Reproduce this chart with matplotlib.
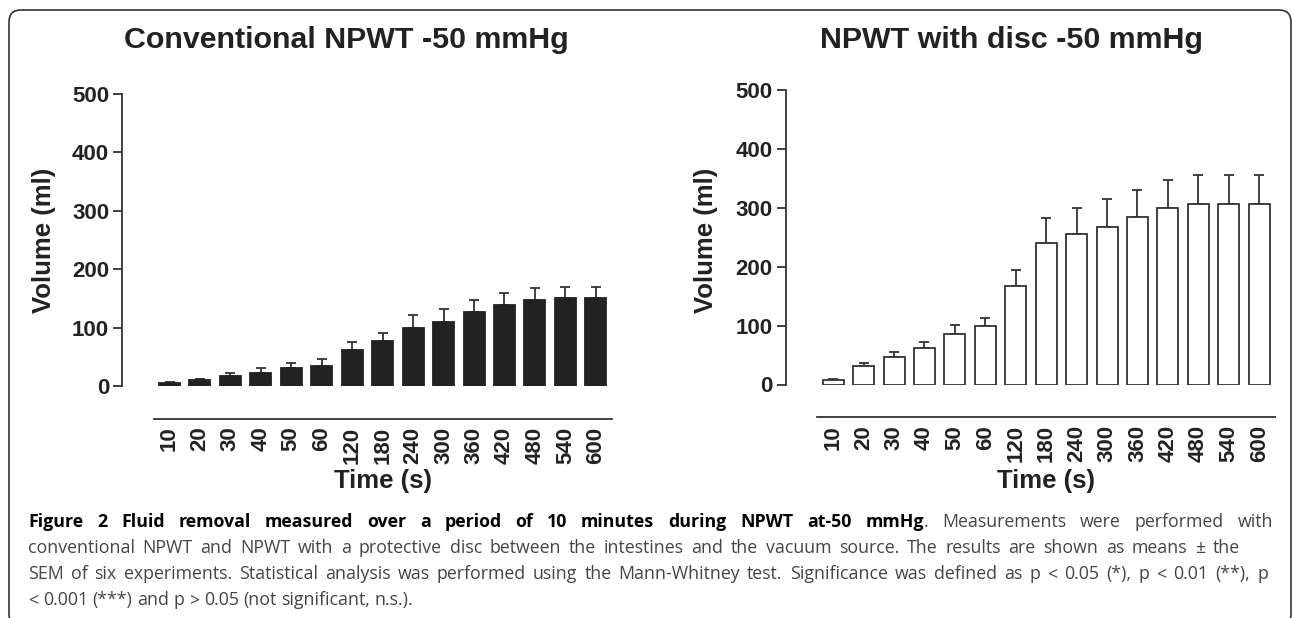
import numpy as np
import matplotlib
matplotlib.use("Agg")
from matplotlib import pyplot as plt
from matplotlib.patches import FancyBboxPatch

times = ["10", "20", "30", "40", "50", "60", "120", "180", "240",
         "300", "360", "420", "480", "540", "600"]

conv_mean = [4.5, 10, 17, 22.5, 30, 35, 62, 77.5, 99.5, 109.5, 127.5, 139, 148, 150, 150]
conv_sem = [1.5, 2, 5, 7.5, 9, 10.5, 13, 14, 21.5, 23, 20.5, 20, 20, 20, 20]

disc_mean = [7.4, 31, 46, 62, 86, 98.5, 166.5, 240.5, 255, 267, 284, 299.5, 306, 306, 307]
disc_sem = [1.6, 6, 10, 10.5, 15, 14, 27.5, 41.5, 45, 48, 46, 47.5, 49, 50, 49]

titles = ["Conventional NPWT -50 mmHg", "NPWT with disc -50 mmHg"]

W, H = 1292, 618
plt.rcParams['font.family'] = ['Liberation Sans', 'DejaVu Sans']
fig = plt.figure(figsize=(W / 100, H / 100), dpi=100)

dark = '#222222'
lw = 1.3


def px(x, y):
    return x / W, 1 - y / H


def panel(rect, means, sems, filled, title, title_x, bar_cx, ylab_x):
    ax = fig.add_axes(rect)
    # spines first: moving a spine resets the tick labels
    for s in ['top', 'right']:
        ax.spines[s].set_visible(False)
    ax.spines['bottom'].set_position(('outward', 23.5))
    for s in ['left', 'bottom']:
        ax.spines[s].set_linewidth(lw)
        ax.spines[s].set_color('#333333')
    x = np.arange(len(times))
    if filled:
        ax.bar(x, means, width=0.69, color=dark, edgecolor=dark, linewidth=lw, zorder=3)
    else:
        ax.bar(x, means, width=0.69, color='white', edgecolor='#333333', linewidth=lw, zorder=3)
    ax.errorbar(x, means, yerr=[np.zeros(len(sems)), sems], fmt='none',
                ecolor='#333333', elinewidth=lw, capsize=3.6, capthick=lw, zorder=2)
    ax.set_xlim(-1.56, 14.53)
    ax.set_ylim(0, 500)
    ax.spines['left'].set_bounds(0, 500)
    ax.spines['bottom'].set_bounds(-0.52, 14.53)
    ax.set_yticks(range(0, 501, 100))
    ax.set_xticks(x)
    ax.set_xticklabels(times)
    ax.tick_params(axis='y', direction='out', length=6.8, width=lw, color='#333333',
                   pad=2.5, labelsize=16, labelcolor=dark)
    ax.tick_params(axis='x', length=0, pad=5.8, labelsize=16, labelcolor=dark,
                   labelrotation=90)
    for lab in ax.get_xticklabels() + ax.get_yticklabels():
        lab.set_fontweight('bold')
    ax.patch.set_visible(False)

    fig.text(*px(title_x, 48), title, ha='center', va='baseline',
             fontsize=21.9, fontweight='bold', color=dark)
    fig.text(*px(bar_cx, 488), "Time (s)", ha='center', va='baseline',
             fontsize=18.5, fontweight='bold', color=dark)
    fig.text(*px(ylab_x, 240), "Volume (ml)", ha='center', va='center', rotation=90,
             fontsize=18.5, fontweight='bold', color=dark)
    return ax


panel([122 / W, 1 - 386 / H, 490 / W, 292 / H], conv_mean, conv_sem, True,
      titles[0], 346, 383, 44)
panel([785.7 / W, 1 - 384.5 / H, 489.6 / W, 294.5 / H], disc_mean, disc_sem, False,
      titles[1], 1011, 1046, 706)

# rounded frame around the figure
frame = FancyBboxPatch((9, -8), 1282, 616, boxstyle="round,pad=0,rounding_size=12",
                       transform=None, fill=False, edgecolor='#333333', linewidth=1.2)
fig.patches.append(frame)

# caption, justified word by word
cap_lines = [
    ([("Figure 2 Fluid removal measured over a period of 10 minutes during NPWT at-50 mmHg", 'bold'),
      (". Measurements were performed with", 'normal')], 1273),
    ([("conventional NPWT and NPWT with a protective disc between the intestines and the vacuum source. "
       "The results are shown as means \u00b1 the", 'normal')], 1240),
    ([("SEM of six experiments. Statistical analysis was performed using the Mann-Whitney test. "
       "Significance was defined as p < 0.05 (*), p < 0.01 (**), p", 'normal')], 1268),
    ([("< 0.001 (***) and p > 0.05 (not significant, n.s.).", 'normal')], None),
]
cap_y = [527, 553, 579, 605]
cap_x0 = 28
cap_size = 12.8
cap_font = ['Open Sans', 'DejaVu Sans']

fig.canvas.draw()
renderer = fig.canvas.get_renderer()


def width_of(s, weight):
    t = fig.text(0, 0, s, fontsize=cap_size, fontweight=weight, family=cap_font)
    w = t.get_window_extent(renderer).width
    t.remove()
    return w


for (segs, x_end), y in zip(cap_lines, cap_y):
    # split into words, each word = list of pieces (text, weight)
    words = []
    glue = False
    for text, weight in segs:
        parts = text.split(' ')
        for i, p in enumerate(parts):
            if p == '':
                continue
            if i == 0 and glue and words:
                words[-1].append((p, weight))
            else:
                words.append([(p, weight)])
        glue = not text.endswith(' ')
    widths = [sum(width_of(p, w) for p, w in wd) for wd in words]
    space = width_of('a b', 'normal') - width_of('ab', 'normal')
    if x_end is not None and len(words) > 1:
        gap = (x_end - cap_x0 - sum(widths)) / (len(words) - 1)
    else:
        gap = space
    x = cap_x0
    for wd, wdt in zip(words, widths):
        xx = x
        for p, weight in wd:
            col = 'black' if weight == 'bold' else '#444444'
            fig.text(*px(xx, y), p, ha='left', va='baseline', fontsize=cap_size,
                     fontweight=weight, family=cap_font, color=col)
            xx += width_of(p, weight)
        x += wdt + gap

fig.savefig("out.png", dpi=100)
